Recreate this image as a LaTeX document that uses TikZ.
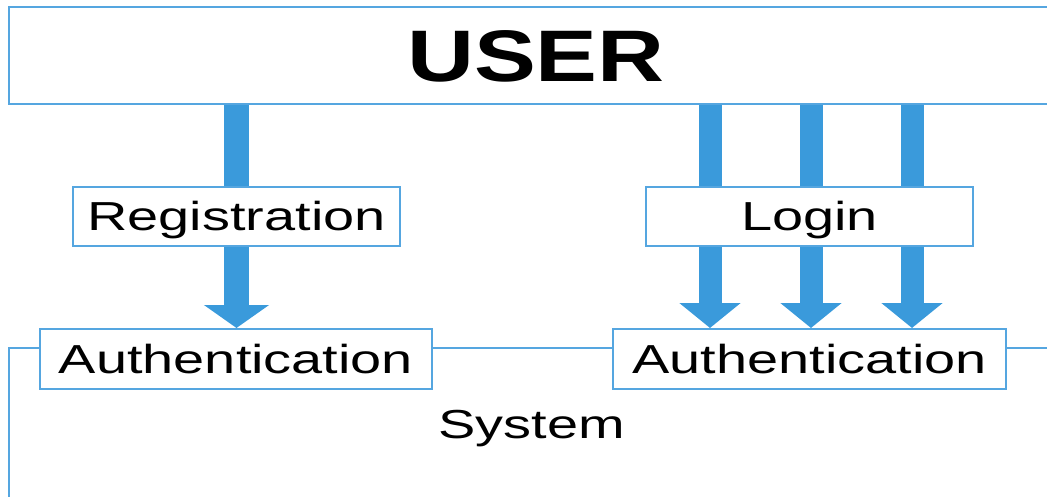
\documentclass[tikz,border=0pt]{standalone}
\usepackage{fontspec}
\newfontfamily\labelfont[FakeStretch=1.38]{Liberation Sans}
\newfontfamily\titlefont[FakeStretch=1.27]{Liberation Sans}
\usetikzlibrary{arrows.meta,backgrounds}
\definecolor{flowblue}{HTML}{3A9ADB}
\definecolor{edgeblue}{HTML}{55A6E0}

\begin{document}
\begin{tikzpicture}[x=1pt,y=-1pt,
  box/.style={draw=edgeblue, line width=2pt, fill=white, inner sep=0pt,
    minimum height=59pt, text height=29pt, text depth=0pt,
    font=\labelfont\fontsize{40.5}{48}\selectfont},
  titlebox/.style={box, text height=52pt,
    font=\titlefont\bfseries\fontsize{73}{80}\selectfont},
  caption/.style={inner sep=0pt, text height=29pt, text depth=0pt,
    font=\labelfont\fontsize{40.5}{48}\selectfont},
  frame/.style={draw=edgeblue, line width=2pt},
  shaftL/.style={draw=flowblue, line width=25pt},
  shaftR/.style={draw=flowblue, line width=23pt},
  tipL/.style={-{Triangle[width=64pt,length=23pt]}},
  tipR/.style={-{Triangle[width=60pt,length=25pt]}}]

\useasboundingbox (0,0) rectangle (1047,497);
\clip (0,0) rectangle (1047,497);

% boxes
\node[titlebox, minimum width=1054pt, minimum height=97pt] (user) at (536,55.5) {USER};
\node[box, minimum width=327pt] (reg) at (236.5,216.5) {Registration};
\node[box, minimum width=327pt] (login) at (809.5,216.5) {Login};
\node[box, minimum width=392pt, minimum height=60pt] (authL) at (236,359) {Authentication};
\node[box, minimum width=393pt, minimum height=60pt] (authR) at (809.5,359) {Authentication};
\node[caption] (sys) at (531.7,424) {System};

\begin{pgfonlayer}{background}
  \clip (0,0) rectangle (1047,497);
  % system frame, running off the page to the right and bottom
  \coordinate (sysTL) at (9.3,348);
  \coordinate (sysBR) at (1090,540);
  \draw[frame] (sysTL) rectangle (sysBR);

  % registration flow
  \draw[shaftL] (user.south -| reg.north) -- (reg.north);
  \draw[shaftL, tipL] (reg.south) -- (reg.south |- authL.north);

  % login flows
  \coordinate (a1) at (710,0);
  \coordinate (a2) at (811,0);
  \coordinate (a3) at (912,0);
  \foreach \c in {a1,a2,a3} {
    \draw[shaftR] (user.south -| \c) -- (login.north -| \c);
    \draw[shaftR, tipR] (login.south -| \c) -- (authR.north -| \c);
  }
\end{pgfonlayer}
\end{tikzpicture}
\end{document}
